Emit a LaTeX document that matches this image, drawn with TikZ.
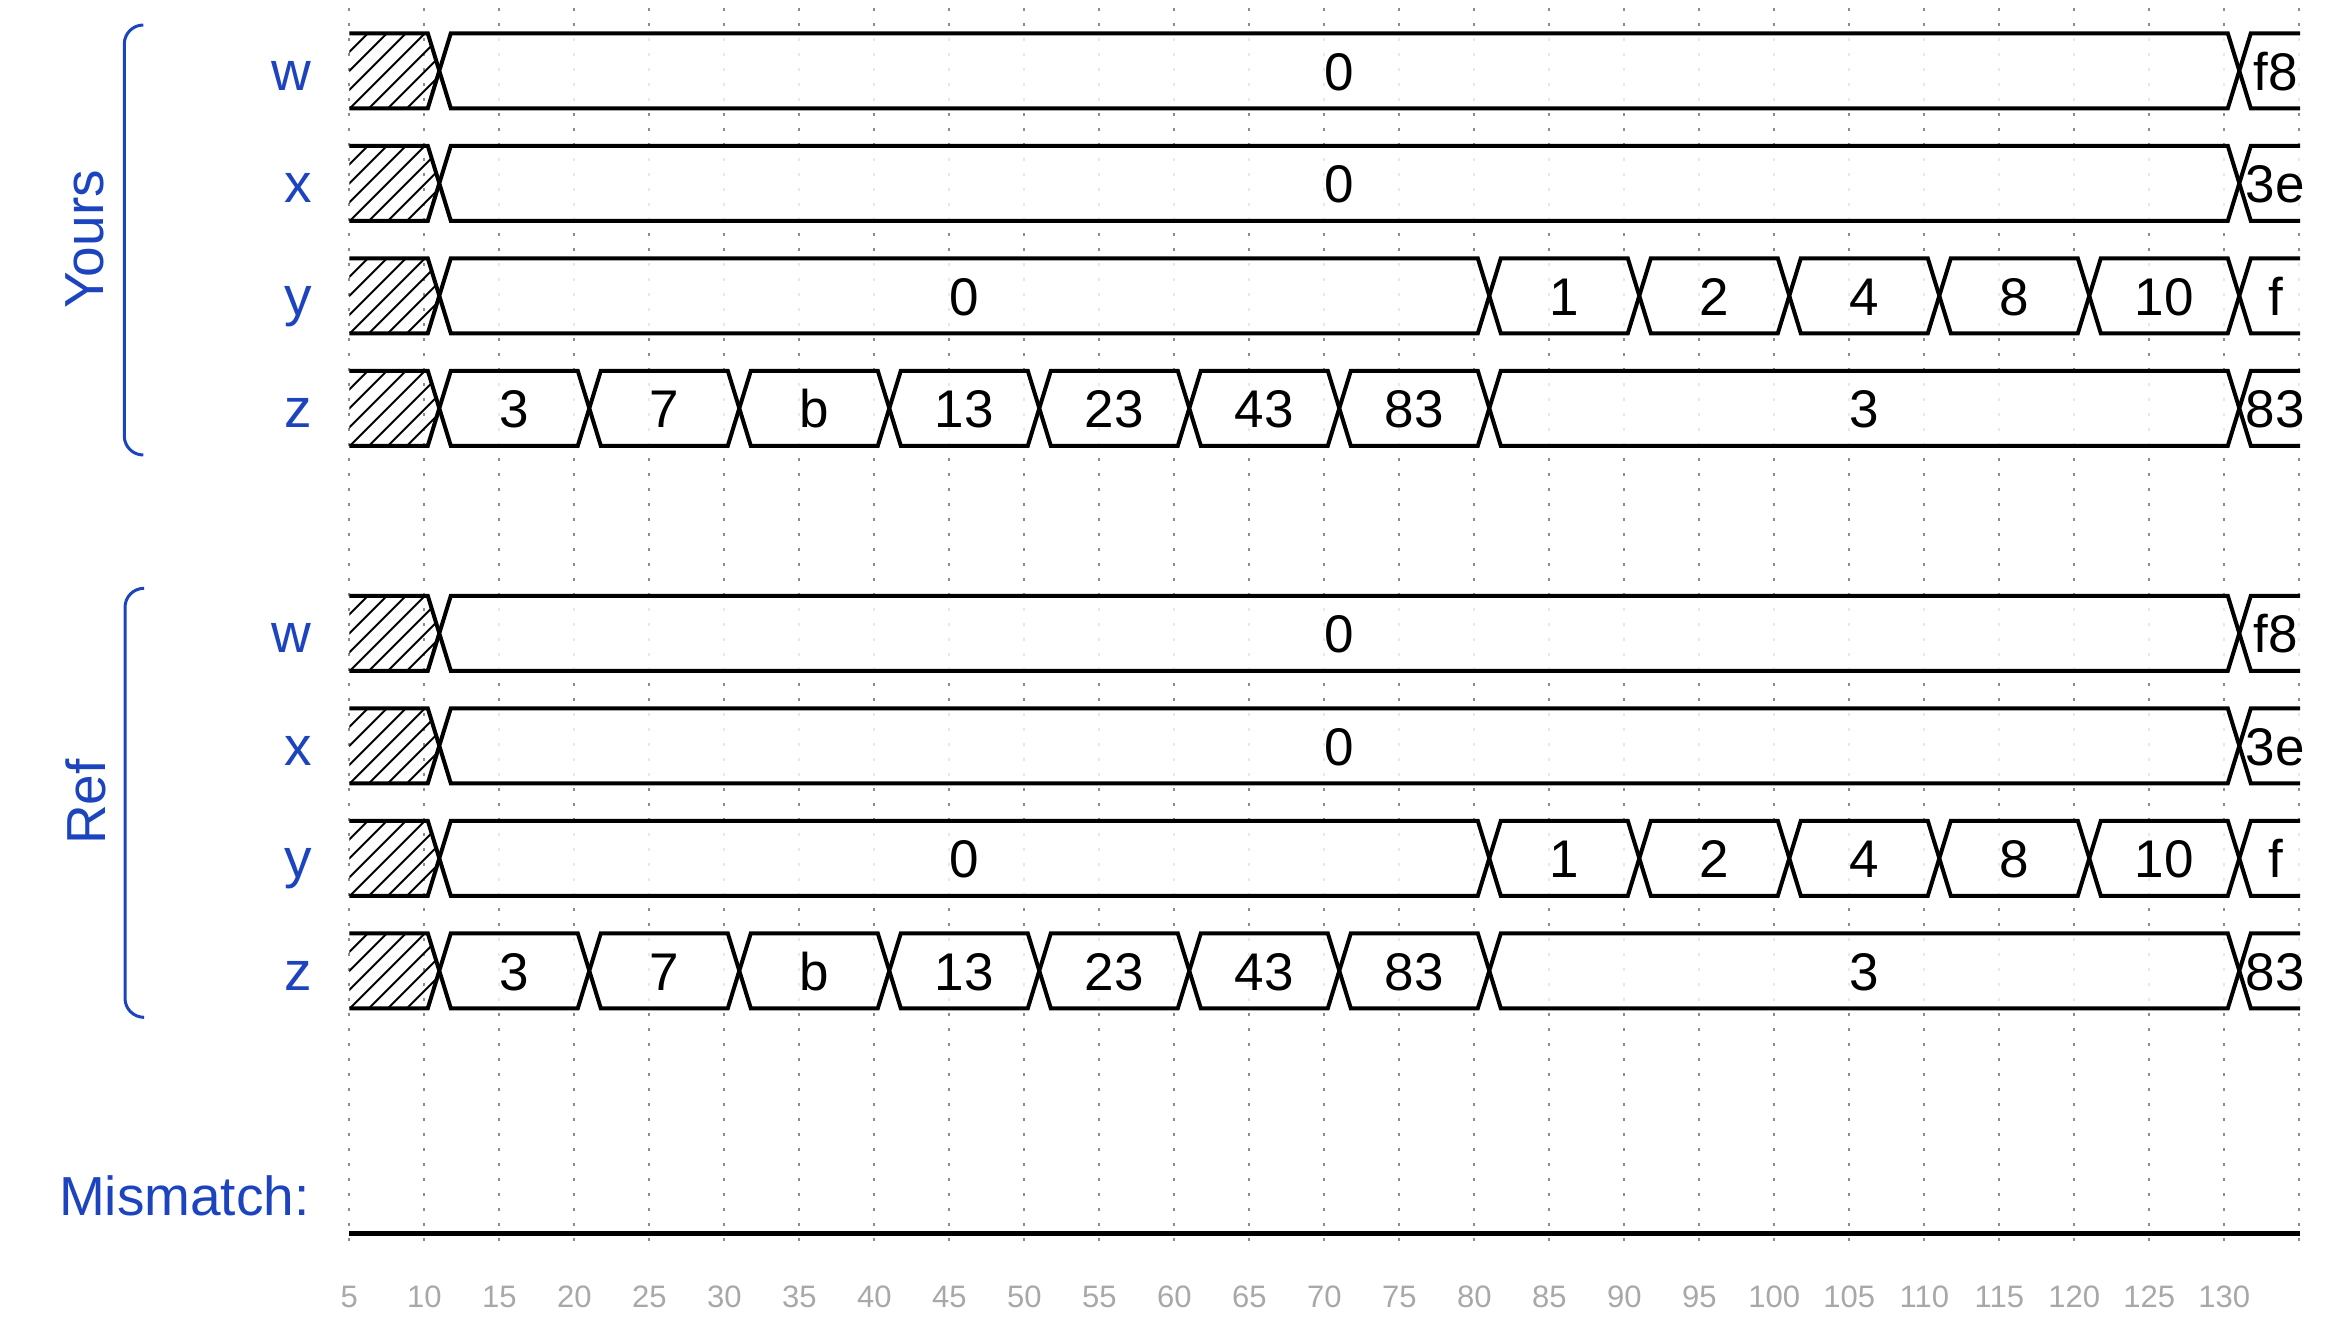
\documentclass[tikz,border=0pt]{standalone}
\usepackage{fontspec}
\setmainfont{Liberation Sans}
\definecolor{lblblue}{RGB}{28,68,190}
\definecolor{gridgray}{RGB}{140,140,140}
\definecolor{axisgray}{RGB}{168,168,168}
\newcommand{\tx}[1]{274.3+15*(#1)}
\newcommand{\rt}[1]{33.3+112.5*(#1)}
\tikzset{
  sig/.style={line width=2pt, line join=miter, fill=white, fill opacity=0.8},
  sigline/.style={line width=2pt, line join=miter},
  hatchline/.style={line width=1pt},
  val/.style={anchor=base, inner sep=0pt, font=\fontsize{26.5}{32}\selectfont},
  siglbl/.style={anchor=base east, inner sep=0pt, text=lblblue, font=\fontsize{27.5}{33}\selectfont},
  grplbl/.style={anchor=base, inner sep=0pt, rotate=90, text=lblblue, font=\fontsize{27.5}{33}\selectfont},
  axlbl/.style={anchor=base, inner sep=0pt, text=axisgray, font=\fontsize{15.5}{18}\selectfont},
  gridline/.style={gridgray, line width=1pt, dash pattern=on 1.5pt off 6pt},
  bracestyle/.style={lblblue, line width=1.5pt, rounded corners=9.5pt},
}
\newcommand{\valseg}[4]{%
  \draw[sig] ({\tx{#2}},{\rt{#1}+37.5}) -- ({\tx{#2}+11.5},{\rt{#1}}) -- ({\tx{#3}-11.5},{\rt{#1}}) -- ({\tx{#3}},{\rt{#1}+37.5}) -- ({\tx{#3}-11.5},{\rt{#1}+75}) -- ({\tx{#2}+11.5},{\rt{#1}+75}) -- cycle;
  \node[val] (v#1-#2) at ({(\tx{#2}+\tx{#3})/2},{\rt{#1}+57}) {#4};
}
\newcommand{\lastseg}[3]{%
  \fill[white, opacity=0.8] (2300,{\rt{#1}}) -- ({\tx{#2}+11.5},{\rt{#1}}) -- ({\tx{#2}},{\rt{#1}+37.5}) -- ({\tx{#2}+11.5},{\rt{#1}+75}) -- (2300,{\rt{#1}+75}) -- cycle;
  \draw[sigline] (2300,{\rt{#1}}) -- ({\tx{#2}+11.5},{\rt{#1}}) -- ({\tx{#2}},{\rt{#1}+37.5}) -- ({\tx{#2}+11.5},{\rt{#1}+75}) -- (2300,{\rt{#1}+75});
  \node[val] (v#1-#2) at ({(\tx{#2}+11.5+2300)/2},{\rt{#1}+57}) {#3};
}
\newcommand{\hatchseg}[1]{%
  \begin{scope}
    \clip (349.3,{\rt{#1}}) -- (427.8,{\rt{#1}}) -- (439.3,{\rt{#1}+37.5}) -- (427.8,{\rt{#1}+75}) -- (349.3,{\rt{#1}+75}) -- cycle;
    \foreach \k in {-4,...,5} \draw[hatchline] ({350+19*\k},{\rt{#1}+75}) -- ++(75,-75);
  \end{scope}
  \draw[sigline] (349.3,{\rt{#1}}) -- (427.8,{\rt{#1}}) -- (439.3,{\rt{#1}+37.5}) -- (427.8,{\rt{#1}+75}) -- (349.3,{\rt{#1}+75});
}
\newcommand{\allsignals}[4]{%
  % w
  \hatchseg{#1}\valseg{#1}{11}{131}{0}\lastseg{#1}{131}{f8}
  \node[siglbl] (lw#1) at (312,{\rt{#1}+57}) {w};
  % x
  \hatchseg{#2}\valseg{#2}{11}{131}{0}\lastseg{#2}{131}{3e}
  \node[siglbl] (lx#2) at (312,{\rt{#2}+57}) {x};
  % y
  \hatchseg{#3}\valseg{#3}{11}{81}{0}\valseg{#3}{81}{91}{1}\valseg{#3}{91}{101}{2}
  \valseg{#3}{101}{111}{4}\valseg{#3}{111}{121}{8}\valseg{#3}{121}{131}{10}\lastseg{#3}{131}{f}
  \node[siglbl] (ly#3) at (312,{\rt{#3}+57}) {y};
  % z
  \hatchseg{#4}\valseg{#4}{11}{21}{3}\valseg{#4}{21}{31}{7}\valseg{#4}{31}{41}{b}
  \valseg{#4}{41}{51}{13}\valseg{#4}{51}{61}{23}\valseg{#4}{61}{71}{43}\valseg{#4}{71}{81}{83}
  \valseg{#4}{81}{131}{3}\lastseg{#4}{131}{83}
  \node[siglbl] (lz#4) at (312,{\rt{#4}+57}) {z};
}
\begin{document}
\begin{tikzpicture}[x=0.5pt,y=-0.5pt]
\useasboundingbox (0,0) rectangle (2341,1328);
% grid
\foreach \k in {0,...,26} \draw[gridline] ({349.3+75*\k},8) -- ({349.3+75*\k},1245);
% axis labels
\foreach \t in {5,10,...,130} \node[axlbl] (ax\t) at ({\tx{\t}},1307) {\t};
% signals
\allsignals{0}{1}{2}{3}
\allsignals{5}{6}{7}{8}
% group braces and labels
\draw[bracestyle] (143.3,25) -- (124.3,25) -- (124.3,455) -- (143.3,455);
\draw[bracestyle] (142.7,588.3) -- (125,588.3) -- (125,1017.3) -- (142.7,1017.3);
\node[grplbl] (yours) at (103.3,239.4) {Yours};
\node[grplbl] (ref) at (105,802) {Ref};
% mismatch
\node[siglbl] (mism) at (310,1215.3) {Mismatch:};
\draw[line width=2.2pt] (349.3,1233.3) -- (2300,1233.3);
\end{tikzpicture}
\end{document}
